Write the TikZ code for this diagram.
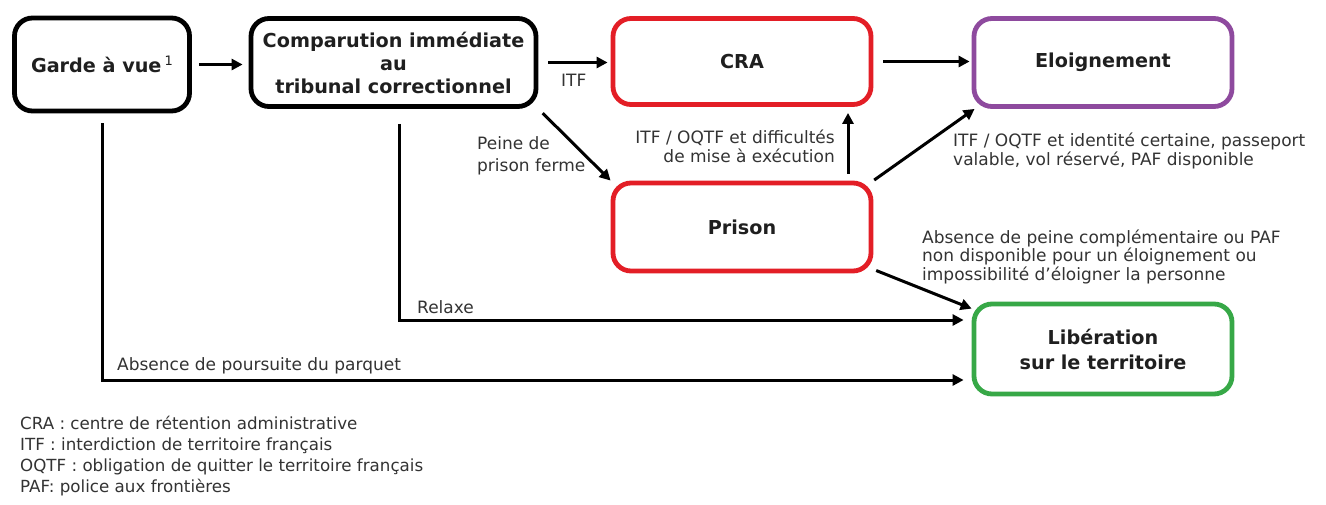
\documentclass[tikz,border=0pt]{standalone}
\usepackage{fontspec}
\setmainfont{DejaVu Sans}
\usetikzlibrary{arrows.meta}
\definecolor{boxred}{HTML}{E31E26}
\definecolor{boxpurple}{HTML}{8E4A9E}
\definecolor{boxgreen}{HTML}{37A847}
\definecolor{txtgray}{HTML}{333333}
\begin{document}
\begin{tikzpicture}[x=1pt,y=-1pt,
  box/.style={draw, line width=4.8pt, rounded corners=18pt, inner sep=0pt,
    font=\fontsize{19.2}{23}\selectfont\bfseries, text=black!88, align=center},
  lbl/.style={font=\fontsize{17}{19}\selectfont, text=txtgray, inner sep=0pt},
  arr/.style={line width=3pt, -{Triangle[length=11pt,width=11pt]}},
]
\useasboundingbox[fill=white] (0,0) rectangle (1326,504);

% boxes
\node[box, minimum width=175pt, minimum height=93pt] (garde) at (102,64.5)
  {Garde à vue\,\raisebox{6.5pt}{\fontsize{13}{13}\selectfont\mdseries 1}};
\node[box, minimum width=285pt, minimum height=88pt] (comp) at (393.5,62.5)
  {Comparution immédiate\\au\\tribunal correctionnel};
\node[box, draw=boxred, minimum width=258pt, minimum height=86pt] (cra) at (742,61.5) {CRA};
\node[box, draw=boxred, minimum width=258pt, minimum height=88pt] (prison) at (742,227) {Prison};
\node[box, draw=boxpurple, minimum width=258pt, minimum height=88pt] (elo) at (1103,62.5) {Eloignement};
\node[box, draw=boxgreen, minimum width=258pt, minimum height=90pt, font=\fontsize{19.2}{25}\selectfont\bfseries] (lib) at (1103,349)
  {Libération\\sur le territoire};

% connectors
\draw[arr, shorten <=7pt, shorten >=6pt] (garde.east) -- (garde.east -| comp.west);
\draw[arr, shorten <=10pt, shorten >=3pt] (comp.east) -- (comp.east -| cra.west);
\draw[arr, shorten <=6pt] (comp.south east) -- (prison.north west);
\draw[arr, shorten <=7pt, shorten >=6pt] ([xshift=106pt]prison.north) -- ([xshift=106pt]cra.south);
\draw[arr, shorten <=10pt, shorten >=2pt] (cra.east) -- (cra.east -| elo.west);
\draw[arr, shorten <=1pt] (prison.north east) -- ([xshift=3pt]elo.south west);
\draw[arr, shorten <=3pt] ([yshift=4pt]prison.south east) -- ([yshift=-7pt]lib.north west);
\draw[arr, shorten >=8pt] ([xshift=5.5pt,yshift=-15pt]comp.south) |- ([yshift=29pt]lib.west);
\draw[arr, shorten >=8pt] ([yshift=-10pt]garde.south) |- ([yshift=-31pt]lib.west);

% labels
\node[lbl, anchor=west] (litf) at (561,80) {ITF};
\node[lbl, anchor=west, align=left, font=\fontsize{17}{22}\selectfont] (lpeine) at (477,156) {Peine de\\prison ferme};
\node[lbl, anchor=east, align=right] (ldiff) at (835,146.5) {ITF / OQTF et difficultés\\de mise à exécution};
\node[lbl, anchor=west, align=left] (lelo) at (953,151) {ITF / OQTF et identité certaine, passeport\\valable, vol réservé, PAF disponible};
\node[lbl, anchor=west, align=left, font=\fontsize{17}{18.5}\selectfont] (lpaf) at (922,256.5) {Absence de peine complémentaire ou PAF\\non disponible pour un éloignement ou\\impossibilité d'éloigner la personne};
\node[lbl, anchor=west] (lrel) at (417,307) {Relaxe};
\node[lbl, anchor=west] (lpours) at (117,366) {Absence de poursuite du parquet};

% legend
\node[lbl, anchor=west, align=left, font=\fontsize{16.7}{21}\selectfont] (legend) at (20,456.5)
  {CRA : centre de rétention administrative\\ITF : interdiction de territoire français\\OQTF : obligation de quitter le territoire français\\PAF: police aux frontières};
\end{tikzpicture}
\end{document}
